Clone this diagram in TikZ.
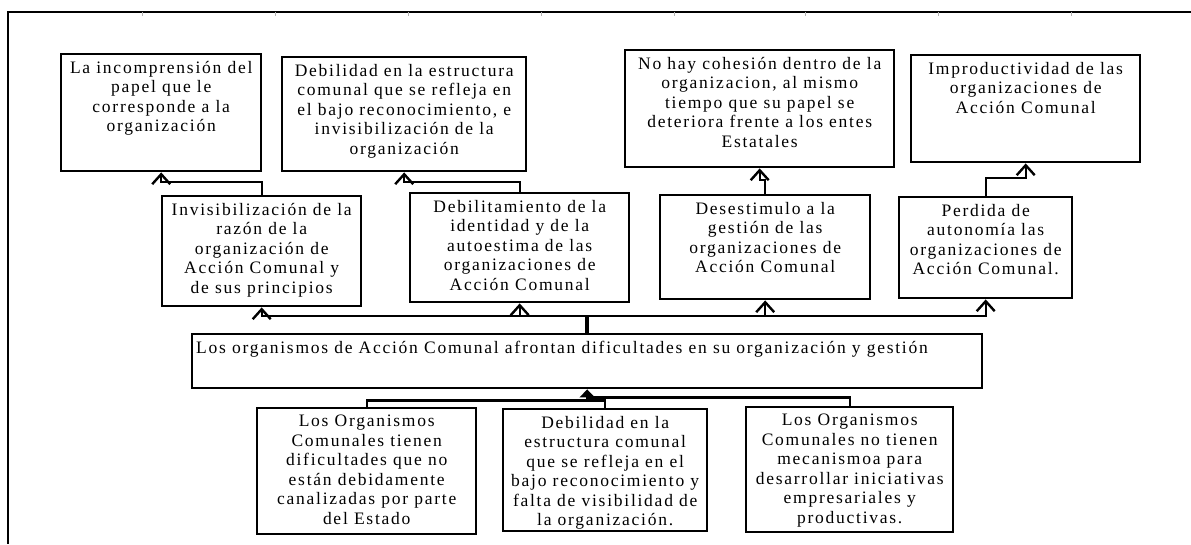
\documentclass[tikz,border=0pt]{standalone}
\usepackage{fontspec}
\setmainfont{Liberation Serif}[LetterSpace=10]
\usetikzlibrary{arrows.meta}
\newcommand\mybox[6]{%
  \node[box, minimum width=#4pt, minimum height=#5pt] (#1) at (#2,#3) {};
  \node[txt, anchor=north] (#1t) at ([yshift=-8pt]#1.north) {#6};}
\begin{document}
\begin{tikzpicture}[x=1pt,y=-1pt,
  box/.style={draw, line width=2.4pt, inner sep=0pt, anchor=north west},
  txt/.style={inner sep=0pt, align=center, font=\fontsize{17.5}{19.5}\selectfont},
  conn/.style={line width=2.2pt},
  arr/.style={conn, -{Straight Barb[length=10pt,width=18pt,line width=2.4pt]}},
  farr/.style={conn, -{Triangle[length=8pt,width=15pt]}},
  trunk/.style={line width=4pt},
  frameline/.style={line width=2.6pt},
  tick/.style={gray!60, line width=1pt}]
\fill[white] (0,0) rectangle (1191,544);
\useasboundingbox (0,0) rectangle (1191,544);
% frame
\draw[frameline] (7,12) -- (1191,12);
\draw[frameline] (8,11) -- (8,544);
\foreach \tx in {142,275,408,541,674,805,938,1071} \draw[tick] (\tx,12) -- (\tx,16);
% top row
\mybox{a1}{60}{53}{200}{117}{La incomprensión del\\papel que le\\corresponde a la\\organización}
\mybox{a2}{281}{56}{244}{114}{Debilidad en la estructura\\comunal que se refleja en\\el bajo reconocimiento, e\\invisibilización de la\\organización}
\mybox{a3}{624}{49}{269}{117}{No hay cohesión dentro de la\\organizacion, al mismo\\tiempo que su papel se\\deteriora frente a los entes\\Estatales}
\mybox{a4}{910}{54}{229}{107}{Improductividad de las\\organizaciones de\\Acción Comunal}
% middle row
\mybox{b1}{161}{195}{199}{110}{Invisibilización de la\\razón de la\\organización de\\Acción Comunal y\\de sus principios}
\mybox{b2}{409}{192}{219}{109}{Debilitamiento de la\\identidad y de la\\autoestima de las\\organizaciones de\\Acción Comunal}
\mybox{b3}{659}{194}{210}{104}{Desestimulo a la\\gestión de las\\organizaciones de\\Acción Comunal}
\mybox{b4}{898}{196}{173}{101}{Perdida de\\autonomía las\\organizaciones de\\Acción Comunal.}
% main problem
\node[box, minimum width=790pt, minimum height=54pt] (main) at (191,333) {};
\node[txt, anchor=north west] (maint) at ([xshift=5pt,yshift=-8pt]main.north west) {Los organismos de Acción Comunal afrontan dificultades en su organización y gestión};
% bottom row
\mybox{c1}{256}{407}{219}{126}{Los Organismos\\Comunales tienen\\dificultades que no\\están debidamente\\canalizadas por parte\\del Estado}
\mybox{c2}{502}{408}{204}{122}{Debilidad en la\\estructura comunal\\que se refleja en el\\bajo reconocimiento y\\falta de visibilidad de\\la organización.}
\mybox{c3}{745}{406}{207}{125}{Los Organismos\\Comunales no tienen\\mecanismoa para\\desarrollar iniciativas\\empresariales y\\productivas.}
% connectors: effects
\draw[trunk] (main.north) -- ++(0,-17) coordinate (hub);
\draw[arr] (hub) -| (b1.south);
\draw[arr] (hub) -| (b2.south);
\draw[arr] (hub) -| (b3.south);
\draw[arr] (hub) -| (b4.south);
\draw[arr] (b1.north) -- ++(0,-13) -| (a1.south);
\draw[arr] (b2.north) -- ++(0,-10) -| (a2.south);
\draw[arr] (b3.north) -- ++(0,-14) -| (a3.south);
\draw[arr] (b4.north) -- ++(0,-18) -| (a4.south);
% connectors: causes
\coordinate (low) at ([yshift=-11pt]main.south);
\coordinate (mid) at ([yshift=-8pt]main.south);
\draw[conn] (c1.north) |- (low);
\draw[conn] (c2.north) |- (low);
\draw[conn] (c3.north) |- (mid);
\draw[farr] (low) -- (main.south);
\end{tikzpicture}
\end{document}
